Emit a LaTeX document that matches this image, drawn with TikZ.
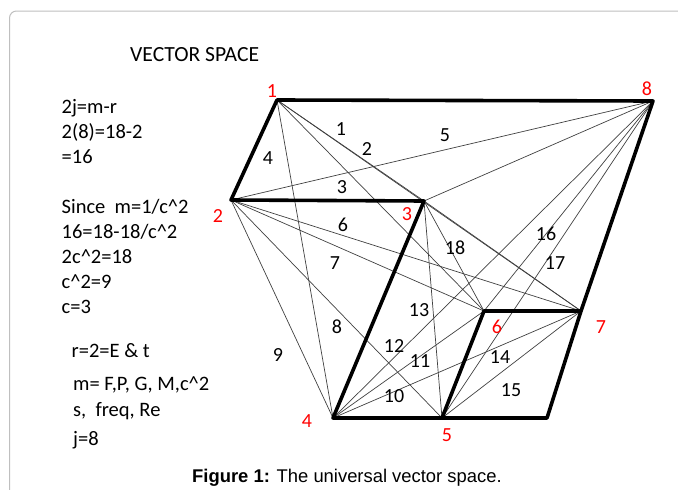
\documentclass[tikz,border=0pt]{standalone}
\usepackage{fontspec}
\setmainfont{Carlito}
\newfontfamily\capfont{Liberation Sans}
\begin{document}
\begin{tikzpicture}[x=1pt,y=-1pt,
  thickedge/.style={line width=3.6pt, line join=round, line cap=round},
  thinedge/.style={line width=0.7pt, black!75},
  vlabel/.style={text=red, font=\fontsize{20}{24}\selectfont, inner sep=0pt},
  alabel/.style={font=\fontsize{20}{24}\selectfont, inner sep=0pt},
  eqline/.style={font=\fontsize{20.5}{24}\selectfont, inner sep=0pt, anchor=base west}]
\useasboundingbox (0,0) rectangle (678,490);
\draw[gray!50, line width=1pt, rounded corners=7pt] (9.5,500) -- (9.5,11) -- (690,11);
% vertices
\coordinate (v1) at (277,100);
\coordinate (v2) at (231,200);
\coordinate (v3) at (424,201);
\coordinate (v4) at (333,418);
\coordinate (v5) at (442,418);
\coordinate (v6) at (484,311);
\coordinate (v7) at (581,311);
\coordinate (v8) at (653,101);
\coordinate (vc) at (547,418);
% thin lines
\foreach \a/\b in {v1/v4, v1/v6, v1/v3, v1/v7, v3/v7,
                   v2/v8, v2/v4, v2/v5, v2/v6, v2/v7,
                   v3/v5, v3/v6, v3/v8,
                   v4/v6, v4/v7, v4/v8,
                   v5/v7, v5/v8, v6/v8}
  \draw[thinedge] (\a) -- (\b);
% thick frame
\draw[thickedge] (v1) -- (v8) -- (v7) -- (vc) -- (v5) -- (v4) -- (v3) -- (v2) -- cycle;
\draw[thickedge] (v5) -- (v6) -- (v7);
% vertex labels
\node[vlabel] (l1) at (272,91) {1};
\node[vlabel] (l2) at (218,216) {2};
\node[vlabel] (l3) at (407,214) {3};
\node[vlabel] (l4) at (307,421) {4};
\node[vlabel] (l5) at (447,435) {5};
\node[vlabel] (l6) at (497,327) {6};
\node[vlabel] (l7) at (601,327) {7};
\node[vlabel] (l8) at (647,89) {8};
% area labels
\node[alabel] (a1) at (341,129) {1};
\node[alabel] (a2) at (367,149) {2};
\node[alabel] (a3) at (342,187) {3};
\node[alabel] (a4) at (268,158) {4};
\node[alabel] (a5) at (445,135) {5};
\node[alabel] (a6) at (343,225) {6};
\node[alabel] (a7) at (335,263) {7};
\node[alabel] (a8) at (337,327) {8};
\node[alabel] (a9) at (278,355) {9};
\node[alabel] (a10) at (394,396) {10};
\node[alabel] (a11) at (420,361) {11};
\node[alabel] (a12) at (394,346) {12};
\node[alabel] (a13) at (419,310) {13};
\node[alabel] (a14) at (500,357) {14};
\node[alabel] (a15) at (511,390) {15};
\node[alabel] (a16) at (546,234) {16};
\node[alabel] (a17) at (555,263) {17};
\node[alabel] (a18) at (455,248) {18};
% title and equations
\node[eqline, font=\fontsize{21.6}{26}\selectfont] (title) at (130,61) {VECTOR SPACE};
\node[eqline] (e1) at (61.5,113) {2j=m-r};
\node[eqline] (e2) at (61.5,138) {2(8)=18-2};
\node[eqline] (e3) at (61.5,163) {=16};
\node[eqline] (e4) at (61.5,213) {Since\ \ m=1/c\^{}2};
\node[eqline] (e5) at (61.5,238) {16=18-18/c\^{}2};
\node[eqline] (e6) at (61.5,263) {2c\^{}2=18};
\node[eqline] (e7) at (61.5,288) {c\^{}2=9};
\node[eqline] (e8) at (61.5,313) {c=3};
\node[eqline] (e9) at (71.5,357) {r=2=E \& t};
\node[eqline] (e10) at (73,390) {m= F,P, G, M,c\^{}2};
\node[eqline] (e11) at (73,416) {s,\ \ freq, Re};
\node[eqline] (e12) at (73,445) {j=8};
% caption
\node[anchor=base west, inner sep=0pt, font=\capfont\fontsize{18.4}{22}\selectfont] (cap) at (192,482) {\textbf{Figure 1:} The universal vector space.};
\end{tikzpicture}
\end{document}
